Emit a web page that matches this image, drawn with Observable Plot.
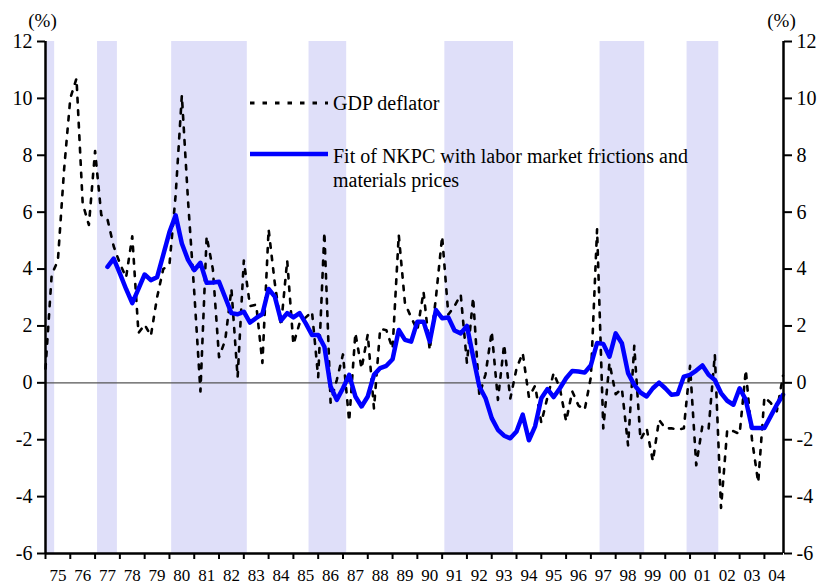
<!DOCTYPE html>
<html>
<head>
<meta charset="utf-8">
<script src="https://cdn.jsdelivr.net/npm/d3@7"></script>
<script src="https://cdn.jsdelivr.net/npm/@observablehq/plot@0.6"></script>
<style>
  html, body { margin: 0; padding: 0; background: #fff; }
  #wrap { position: relative; width: 822px; height: 587px; font-family: "Liberation Serif", "Times New Roman", serif; }
  #legend { position: absolute; left: 0; top: 0; pointer-events: none; }
</style>
</head>
<body>
<div id="wrap"></div>
<script>
// ---- Data (quarterly, % change) ----
const gdpStart = 1975;      // 1975Q1
const gdpDeflator = [
  0.5, 3.8, 4.3, 7.5, 10.0, 10.7, 6.3, 5.55, 8.15, 5.9,
  5.75, 4.8, 4.2, 3.7, 5.15, 1.75, 2.05, 1.65, 3.0, 4.0,
  4.15, 6.6, 10.1, 6.4, 3.2, -0.3, 5.15, 4.0, 0.9, 1.5,
  3.3, 0.2, 4.3, 2.7, 2.75, 0.7, 5.4, 3.5, 2.0, 4.3,
  1.35, 2.1, 2.3, 2.5, 0.2, 5.3, -0.7, 0.1, 1.0, -1.35,
  1.75, 0.5, 1.7, -0.9, 1.9, 1.85, 1.2, 5.2, 2.8, 2.3,
  1.85, 3.2, 1.15, 3.0, 5.15, 2.4, 2.7, 3.1, 0.7, 3.0,
  -0.45, 0.3, 1.8, -0.6, 1.35, -0.55, 0.5, 1.05, -0.5, -0.1,
  -1.4, -0.5, 0.35, -0.2, -1.35, -0.3, -0.8, -0.95, 0.2, 5.4,
  -1.6, 0.7, -0.4, -0.2, -2.2, 1.3, -2.0, -1.6, -2.75, -1.3,
  -1.6, -1.6, -1.65, -1.6, 0.6, -2.9, -1.5, -1.6, 1.0, -4.4,
  -1.65, -1.7, -1.8, 0.45, -2.0, -3.5, -0.5, -0.7, -1.0, 0.25
];
const fitStart = 1977.5;    // 1977Q3
const fitNKPC = [
  4.08, 4.37, 3.85, 3.3, 2.8, 3.3, 3.81, 3.61, 3.71, 4.5,
  5.3, 5.89, 4.9, 4.32, 3.96, 4.22, 3.52, 3.53, 3.55, 3.0,
  2.45, 2.41, 2.5, 2.12, 2.28, 2.42, 3.3, 3.03, 2.19, 2.45,
  2.3, 2.45, 2.09, 1.68, 1.68, 1.27, -0.13, -0.6, -0.19, 0.28,
  -0.48, -0.83, -0.48, 0.28, 0.52, 0.6, 0.83, 1.86, 1.51, 1.45,
  2.15, 2.15, 1.45, 2.56, 2.27, 2.3, 1.84, 1.74, 2.0, 0.92,
  -0.13, -0.54, -1.24, -1.65, -1.86, -1.95, -1.71, -1.12, -2.02, -1.53,
  -0.54, -0.22, -0.5, -0.19, 0.16, 0.42, 0.4, 0.36, 0.62, 1.4,
  1.37, 0.92, 1.74, 1.39, 0.34, -0.07, -0.34, -0.48, -0.19, 0.01,
  -0.19, -0.42, -0.39, 0.22, 0.28, 0.43, 0.61, 0.28, 0.1, -0.36,
  -0.63, -0.77, -0.19, -0.6, -1.59, -1.59, -1.59, -1.18, -0.77, -0.42
];
// Shaded periods (recessions)
const bandStart = [1975.0, 1977.1, 1980.09, 1985.63, 1991.11, 1997.37, 2000.88];
const bandEnd   = [1975.37, 1977.9, 1983.14, 1987.15, 1993.88, 1999.17, 2002.16];
// Axes
const xDomain = [1975, 2004.77];
const yDomain = [-6, 12];
const yTicks = [-6, -4, -2, 0, 2, 4, 6, 8, 10, 12];
const years = d3.range(1975, 2005);
const yearLabels = ["75","76","77","78","79","80","81","82","83","84","85","86","87","88","89",
                    "90","91","92","93","94","95","96","97","98","99","00","01","02","03","04"];
const legendLabels = ["GDP deflator", "Fit of NKPC with labor market frictions and", "materials prices"];

// ---- Build tables ----
const gdpData = gdpDeflator.map((v, i) => ({t: gdpStart + i / 4, v}));
const fitData = fitNKPC.map((v, i) => ({t: fitStart + i / 4, v}));
const bands = bandStart.map((s, i) => ({start: s, end: bandEnd[i]}));
const FONT = '"Liberation Serif", "Times New Roman", serif';

const chart = Plot.plot({
  width: 822,
  height: 587,
  marginLeft: 45,
  marginRight: 39,
  marginTop: 41,
  marginBottom: 34,
  style: {fontFamily: FONT, background: "white", color: "black"},
  x: {domain: xDomain},
  y: {domain: yDomain},
  marks: [
    Plot.rect(bands, {x1: "start", x2: "end", y1: () => yDomain[0], y2: () => yDomain[1], fill: "#dfdff9"}),
    Plot.ruleY([0], {stroke: "#555", strokeWidth: 1.2}),
    Plot.line(gdpData, {x: "t", y: "v", stroke: "black", strokeWidth: 2.6, strokeDasharray: "4.5,8"}),
    Plot.line(fitData, {x: "t", y: "v", stroke: "#0000ff", strokeWidth: 4.5, strokeLinejoin: "round", strokeLinecap: "round"}),
    // axis lines
    Plot.ruleX([xDomain[0]], {stroke: "black", strokeWidth: 2.5}),
    Plot.ruleX([xDomain[1]], {stroke: "black", strokeWidth: 2.5}),
    Plot.ruleY([yDomain[0]], {stroke: "black", strokeWidth: 2.5}),
    // y axes
    Plot.axisY({anchor: "left", ticks: yTicks, tickSize: 8, tickPadding: 5, fontSize: 20, strokeWidth: 2,
      tickFormat: d => String(d), label: null}),
    Plot.axisY({anchor: "right", ticks: yTicks, tickSize: 8, tickPadding: 5, fontSize: 20, strokeWidth: 2,
      tickFormat: d => String(d), label: null}),
    // x ticks at year boundaries
    Plot.axisX({ticks: years, tickSize: 6, strokeWidth: 2, tickFormat: () => "", label: null}),
    // x labels centered in each year
    Plot.axisX({ticks: years.map(y => y + 0.5), tickSize: 0, tickPadding: 15, fontSize: 17,
      tickFormat: d => yearLabels[Math.round(d - 0.5) - 1975], label: null}),
    // unit labels
    Plot.text(["(%)"], {frameAnchor: "top-left", dx: -3, dy: -21, fontSize: 19, textAnchor: "middle", lineAnchor: "middle"}),
    Plot.text(["(%)"], {frameAnchor: "top-right", dx: -2, dy: -21, fontSize: 19, textAnchor: "middle", lineAnchor: "middle"})
  ]
});

const wrap = document.getElementById("wrap");
wrap.appendChild(chart);

// ---- Legend overlay ----
const ns = "http://www.w3.org/2000/svg";
const leg = document.createElementNS(ns, "svg");
leg.setAttribute("id", "legend");
leg.setAttribute("width", 822);
leg.setAttribute("height", 587);
leg.innerHTML = `
  <line x1="250" x2="328" y1="103" y2="103" stroke="black" stroke-width="3" stroke-dasharray="4.5,8"/>
  <text x="333" y="110" font-size="20" font-family='${FONT}'>${legendLabels[0]}</text>
  <line x1="250" x2="328" y1="154" y2="154" stroke="#0000ff" stroke-width="4.5"/>
  <text x="333" y="163" font-size="20" font-family='${FONT}'>${legendLabels[1]}</text>
  <text x="333" y="187" font-size="20" font-family='${FONT}'>${legendLabels[2]}</text>
`;
wrap.appendChild(leg);
</script>
</body>
</html>
